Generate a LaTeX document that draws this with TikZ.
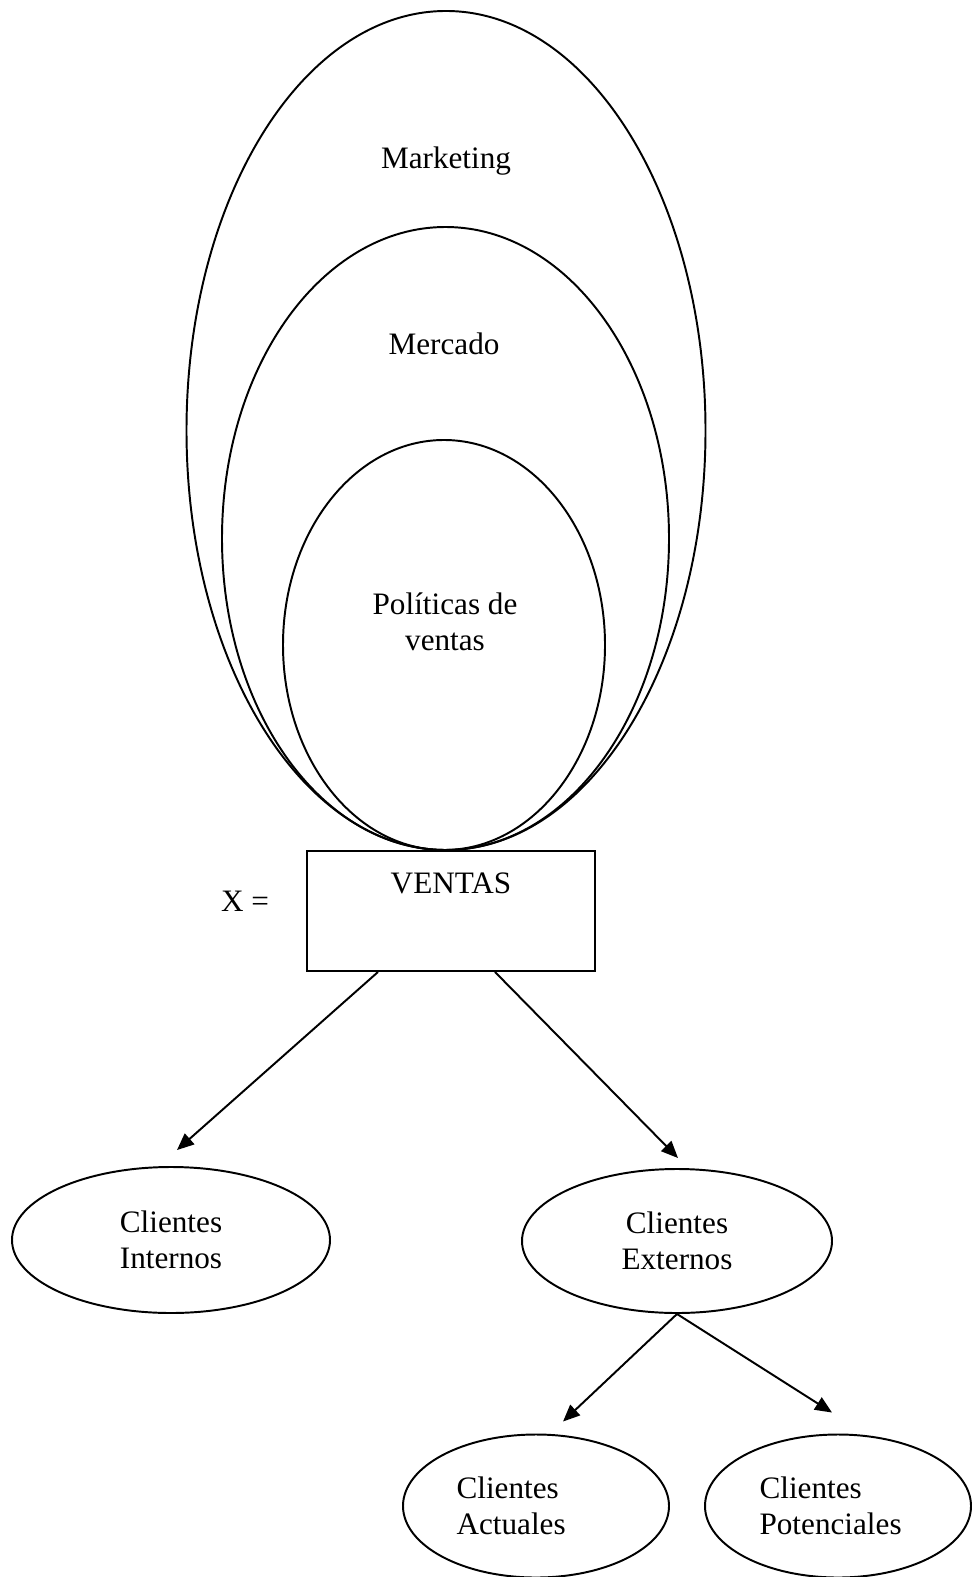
\documentclass[tikz,border=0pt]{standalone}
\usepackage{fontspec}
\setmainfont{Liberation Serif}
\usetikzlibrary{shapes.geometric,arrows.meta}
\def\pu{0.3846pt}
\begin{document}
\begin{tikzpicture}[x=0.3846pt,y=-0.3846pt,
  oval/.style={draw, ellipse, line width=0.75pt, inner sep=0pt,
    font=\fontsize{12}{13.9}\selectfont, align=center},
  box/.style={draw, rectangle, line width=0.75pt, inner sep=0pt},
  lbl/.style={font=\fontsize{12}{13.9}\selectfont, align=center, inner sep=0pt},
  lbll/.style={font=\fontsize{12}{13.9}\selectfont, align=left, inner sep=0pt, anchor=west},
  arr/.style={-{Triangle[length=6.5pt,width=5.5pt]}, line width=0.75pt}]
\useasboundingbox (0,0) rectangle (971,1577);

% nested ellipses
\node[oval, minimum width={519*\pu}, minimum height={839*\pu}] (marketing) at (446,430.5) {};
\node[oval, minimum width={447*\pu}, minimum height={623*\pu}] (mercado) at (445.5,538.5) {};
\node[oval, minimum width={322*\pu}, minimum height={410*\pu}] (politicas) at (444,645) {};
\node[lbl] (marketinglbl) at (446,161) {Marketing};
\node[lbl] (mercadolbl) at (444,344) {Mercado};
\node[lbl] (politicaslbl) at (445,622) {Políticas de\\ventas};

% sales box
\node[box, minimum width={288*\pu}, minimum height={120*\pu}] (ventas) at (451,911) {};
\node[lbl] (ventaslbl) at (451,883) {VENTAS};
\node[lbl] (xeq) at (245,901) {X =};

% customers
\node[oval, minimum width={318*\pu}, minimum height={146*\pu}] (cint) at (171,1240) {Clientes\\Internos};
\node[oval, minimum width={310*\pu}, minimum height={144*\pu}] (cext) at (677,1241) {Clientes\\Externos};
\node[oval, minimum width={266*\pu}, minimum height={143*\pu}] (cact) at (536,1506) {};
\node[oval, minimum width={266*\pu}, minimum height={143*\pu}] (cpot) at (838,1506) {};
\node[lbll] (cactlbl) at (456,1506) {Clientes\\Actuales};
\node[lbll] (cpotlbl) at (759,1506) {Clientes\\Potenciales};

% connectors
\draw[arr] ([shift={(-73,0)}]ventas.south) -- ([shift={(6,-16)}]cint.north);
\draw[arr] ([shift={(44,0)}]ventas.south) -- ([shift={(1,-10)}]cext.north);
\draw[arr] (cext.south) -- ([shift={(27,-12)}]cact.north);
\draw[arr] (cext.south) -- ([shift={(-6,-21)}]cpot.north);
\end{tikzpicture}
\end{document}
